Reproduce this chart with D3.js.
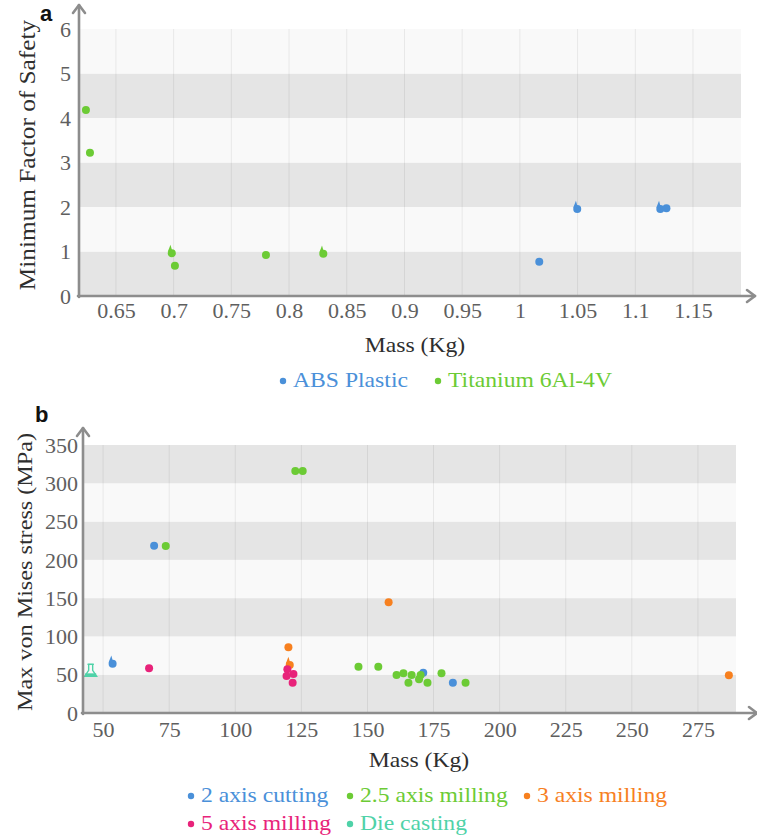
<!DOCTYPE html>
<html>
<head>
<meta charset="utf-8">
<script src="https://cdn.jsdelivr.net/npm/d3@7"></script>
<style>
  html, body { margin: 0; padding: 0; background: #ffffff; }
  svg { display: block; }
</style>
</head>
<body>
<svg id="chart" width="757" height="838"></svg>
<script>
// ---------- Panel a: mass vs minimum factor of safety ----------
const aSeries = ["ABS Plastic", "Titanium 6Al-4V"];
const aColors = ["#4a90d9", "#6ccb35"];
const absMass = [1.0168, 1.049, 1.121, 1.127];
const absFos = [0.77, 1.96, 1.96, 1.97];
const absMark = ["dot", "pin", "pin", "dot"];
const tiMass = [0.624, 0.6275, 0.6977, 0.7011, 0.780, 0.829];
const tiFos = [4.18, 3.22, 0.97, 0.68, 0.92, 0.955];
const tiMark = ["dot", "dot", "pin", "dot", "dot", "pin"];
const aXTicks = [0.65, 0.7, 0.75, 0.8, 0.85, 0.9, 0.95, 1, 1.05, 1.1, 1.15];
const aYTicks = [0, 1, 2, 3, 4, 5, 6];

// ---------- Panel b: mass vs max von Mises stress ----------
const bSeries = ["2 axis cutting", "2.5 axis milling", "3 axis milling", "5 axis milling", "Die casting"];
const bColors = ["#4a90d9", "#6ccb35", "#f7801f", "#e8237a", "#4fd2a8"];
const cutMass = [69.3, 53.3, 171.1, 182.3];
const cutStress = [218.4, 64.7, 52.6, 39.6];
const cutMark = ["dot", "pin", "dot", "dot"];
const mill25Mass = [122.7, 125.5, 73.7, 146.6, 154.1, 161.0, 163.6, 166.7, 170.1, 165.5, 169.5, 172.7, 178.0, 187.1];
const mill25Stress = [316, 316, 218, 60.4, 60.4, 49.6, 51.8, 49.6, 49.6, 39.6, 44.0, 39.6, 51.8, 39.6];
const mill25Mark = ["dot", "dot", "dot", "dot", "dot", "dot", "dot", "dot", "dot", "dot", "dot", "dot", "dot", "dot"];
const mill3Mass = [120.1, 120.3, 158.0, 286.7];
const mill3Stress = [85.8, 63, 144.5, 49.2];
const mill3Mark = ["dot", "pin", "dot", "dot"];
const mill5Mass = [67.4, 119.7, 119.4, 122.0, 121.7];
const mill5Stress = [58.3, 57, 48.3, 51, 39.6];
const mill5Mark = ["dot", "dot", "dot", "dot", "dot"];
const dieMass = [45.3];
const dieStress = [51.8];
const dieMark = ["flask"];
const bXTicks = [50, 75, 100, 125, 150, 175, 200, 225, 250, 275];
const bYTicks = [0, 50, 100, 150, 200, 250, 300, 350];

const svg = d3.select("#chart");
const SERIF = '"Liberation Serif"';
const STRETCH = 1.1;           // serif text in this figure is set a little wide
const AXIS_COLOR = "#8d8d8d";

function zip(xs, ys, marks) {
  return xs.map((x, i) => ({ x, y: ys[i], mark: marks[i] }));
}

// Point marker shapes: plain dot, dot with a small tab (pin) and a flask outline
function drawMarker(g, d, cx, cy, color) {
  const r = 4;
  if (d.mark === "flask") {
    g.append("path")
      .attr("d", `M${cx - 2},${cy - 9} L${cx - 2},${cy - 3} L${cx - 6},${cy + 3} L${cx + 6},${cy + 3} L${cx + 2},${cy - 3} L${cx + 2},${cy - 9} Z`)
      .attr("fill", "none").attr("stroke", color).attr("stroke-width", 1.4);
    g.append("rect").attr("x", cx - 5.5).attr("y", cy).attr("width", 11).attr("height", 3.2).attr("fill", color);
    g.append("line").attr("x1", cx - 3.2).attr("x2", cx + 3.2).attr("y1", cy - 9).attr("y2", cy - 9)
      .attr("stroke", color).attr("stroke-width", 1.4);
    return;
  }
  if (d.mark === "pin") {
    g.append("path")
      .attr("d", `M${cx - 3.2},${cy - 1} L${cx - 0.5},${cy - 8} L${cx + 1.2},${cy - 2} Z`)
      .attr("fill", color);
    g.append("circle").attr("cx", cx + 0.8).attr("cy", cy + 0.3).attr("r", r).attr("fill", color);
    return;
  }
  g.append("circle").attr("cx", cx).attr("cy", cy).attr("r", r).attr("fill", color);
}

function serifText(g, x, y, text, opts) {
  return g.append("text")
    .attr("transform", `translate(${x},${y})${opts.rotate ? " rotate(-90)" : ""} scale(${STRETCH},1)`)
    .attr("text-anchor", opts.anchor || "middle")
    .style("font-family", SERIF)
    .style("font-size", opts.size + "px")
    .attr("fill", opts.color)
    .text(text);
}

function panel(cfg) {
  const { x, y } = cfg;
  const g = svg.append("g");
  const [x0, x1] = x.range();
  const [y0, y1] = y.range();

  // alternating horizontal bands between y ticks
  const yt = cfg.yTicks;
  g.append("g").selectAll("rect")
    .data(d3.pairs(yt))
    .join("rect")
    .attr("x", x0).attr("width", x1 - x0)
    .attr("y", d => y(d[1])).attr("height", d => y(d[0]) - y(d[1]))
    .attr("fill", (d, i) => i % 2 === 0 ? "#e5e5e5" : "#f9f9f9");

  // vertical grid lines
  g.append("g").selectAll("line")
    .data(cfg.xTicks)
    .join("line")
    .attr("x1", d => x(d)).attr("x2", d => x(d))
    .attr("y1", y1).attr("y2", y0)
    .attr("stroke", "#000").attr("stroke-opacity", 0.07).attr("stroke-width", 1);

  // series points
  cfg.series.forEach((s, si) => {
    const sg = g.append("g");
    s.forEach(d => drawMarker(sg, d, x(d.x), y(d.y), cfg.colors[si]));
  });

  // tick labels via d3 axes (lines hidden, labels restyled)
  const xa = g.append("g").attr("transform", `translate(0,${y0})`)
    .call(d3.axisBottom(x).tickValues(cfg.xTicks).tickSize(0).tickPadding(0).tickFormat(d => String(+d.toFixed(2))));
  xa.select(".domain").remove();
  xa.selectAll("text")
    .attr("y", cfg.xLabelOffset).attr("dy", null)
    .attr("transform", `scale(${STRETCH},1)`)
    .style("font-family", SERIF)
    .style("font-size", cfg.tickSize + "px").attr("fill", "#5f5f5f");

  const ya = g.append("g").attr("transform", `translate(${x0},0)`)
    .call(d3.axisLeft(y).tickValues(yt).tickSize(0).tickPadding(0).tickFormat(d3.format("d")));
  ya.select(".domain").remove();
  ya.selectAll("text")
    .attr("x", -cfg.yLabelGap / STRETCH).attr("dy", "0.36em")
    .attr("transform", `scale(${STRETCH},1)`)
    .style("font-family", SERIF)
    .style("font-size", cfg.tickSize + "px").attr("fill", "#5f5f5f");

  // axis lines with arrow heads
  const ax = g.append("g").attr("stroke", AXIS_COLOR).attr("stroke-width", 2.6).attr("fill", "none")
    .attr("stroke-linecap", "round").attr("stroke-linejoin", "round");
  ax.append("line").attr("x1", x0).attr("x2", x0).attr("y1", y0 + 1).attr("y2", cfg.arrowTop);
  ax.append("path").attr("d", `M${x0 - 6},${cfg.arrowTop + 8} L${x0},${cfg.arrowTop} L${x0 + 6},${cfg.arrowTop + 8}`);
  ax.append("line").attr("x1", x0 - 1).attr("x2", cfg.arrowRight).attr("y1", y0).attr("y2", y0);
  ax.append("path").attr("d", `M${cfg.arrowRight - 8},${y0 - 6} L${cfg.arrowRight},${y0} L${cfg.arrowRight - 8},${y0 + 6}`);

  // axis titles
  serifText(g, cfg.xTitlePos[0], cfg.xTitlePos[1], "Mass (Kg)", { size: 21.5, color: "#2e2e2e" });
  serifText(g, cfg.yTitlePos[0], cfg.yTitlePos[1], cfg.yTitle, { size: cfg.yTitleSize, color: "#2e2e2e", rotate: true });

  // panel letter
  g.append("text").attr("x", cfg.letterPos[0]).attr("y", cfg.letterPos[1])
    .style("font-family", '"Liberation Sans"').attr("font-weight", "bold")
    .style("font-size", "22px").attr("fill", "#111").text(cfg.letter);

  // legend
  cfg.legendItems.forEach((it, i) => {
    g.append("circle").attr("cx", it[0]).attr("cy", it[1] - 6).attr("r", 3.2).attr("fill", cfg.colors[i]);
    serifText(g, it[0] + 10, it[1], cfg.names[i], { size: 21.5, color: cfg.colors[i], anchor: "start" });
  });
}

// Panel a
panel({
  x: d3.scaleLinear().domain([0.618, 1.1916]).range([79, 741]),
  y: d3.scaleLinear().domain([0, 6]).range([296, 29]),
  xTicks: aXTicks, yTicks: aYTicks,
  series: [zip(absMass, absFos, absMark), zip(tiMass, tiFos, tiMark)],
  colors: aColors, names: aSeries,
  tickSize: 20, xLabelOffset: 22, yLabelGap: 8,
  arrowTop: 5, arrowRight: 755,
  xTitlePos: [415, 352], yTitlePos: [35, 155], yTitleSize: 23, yTitle: "Minimum Factor of Safety",
  letter: "a", letterPos: [40, 21],
  legendItems: [[283, 387], [438, 387]]
});

// Panel b
panel({
  x: d3.scaleLinear().domain([42.4, 289.4]).range([83, 736]),
  y: d3.scaleLinear().domain([0, 350]).range([713, 445]),
  xTicks: bXTicks, yTicks: bYTicks,
  series: [
    zip(cutMass, cutStress, cutMark),
    zip(mill25Mass, mill25Stress, mill25Mark),
    zip(mill3Mass, mill3Stress, mill3Mark),
    zip(mill5Mass, mill5Stress, mill5Mark),
    zip(dieMass, dieStress, dieMark)
  ],
  colors: bColors, names: bSeries,
  tickSize: 20, xLabelOffset: 24, yLabelGap: 5,
  arrowTop: 428, arrowRight: 757,
  xTitlePos: [419, 767], yTitlePos: [32, 572], yTitleSize: 22, yTitle: "Max von Mises stress (MPa)",
  letter: "b", letterPos: [35, 422],
  legendItems: [[191, 802], [350, 802], [527, 802], [191, 830], [350, 830]]
});
</script>
</body>
</html>
